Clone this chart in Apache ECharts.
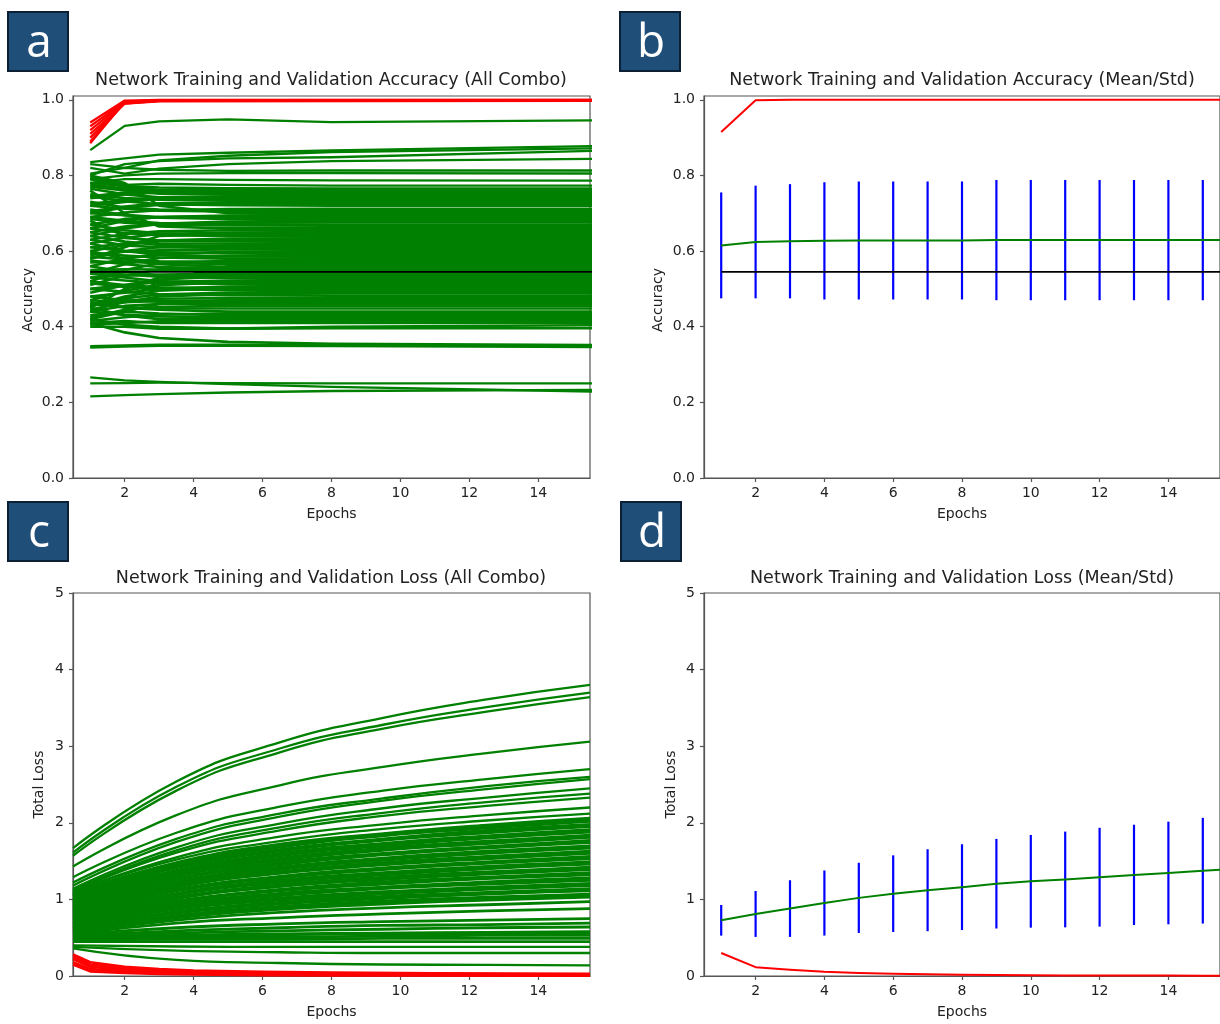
<!DOCTYPE html>
<html><head><meta charset="utf-8">
<script src="https://cdn.jsdelivr.net/npm/echarts@6/dist/echarts.min.js"></script>
<style>html,body{margin:0;padding:0;background:#fff}#c{width:1220px;height:1024px}</style>
</head><body><div id="c"></div>
<script>
// ---------- tick labels ----------
const xTicks = [2, 4, 6, 8, 10, 12, 14];
const accTicks = [0, 0.2, 0.4, 0.6, 0.8, 1.0];
const lossTicks = [0, 1, 2, 3, 4, 5];

// ---------- panel a: accuracy, all combos ----------
const accEpochs = [1, 2, 3, 5, 8, 16];
const accGreenTop = [
  [0.867, 0.931, 0.943, 0.948, 0.941, 0.946]
];
const accGreenUpper = [
  [0.835, 0.845, 0.855, 0.860, 0.866, 0.878],
  [0.830, 0.820, 0.840, 0.852, 0.862, 0.872],
  [0.800, 0.830, 0.838, 0.845, 0.848, 0.866],
  [0.820, 0.805, 0.818, 0.830, 0.838, 0.844],
  [0.805, 0.820, 0.815, 0.812, 0.813, 0.813],
  [0.790, 0.800, 0.805, 0.806, 0.806, 0.805],
  [0.780, 0.790, 0.790, 0.788, 0.787, 0.786],
  [0.795, 0.775, 0.778, 0.775, 0.773, 0.773]
];
const accGreenDense = [
  [0.780, 0.772, 0.768, 0.766, 0.765, 0.765],
  [0.740, 0.750, 0.755, 0.757, 0.757, 0.757],
  [0.770, 0.760, 0.752, 0.750, 0.749, 0.749],
  [0.720, 0.730, 0.738, 0.740, 0.741, 0.741],
  [0.750, 0.740, 0.736, 0.734, 0.733, 0.733],
  [0.700, 0.715, 0.722, 0.724, 0.725, 0.725],
  [0.730, 0.715, 0.710, 0.708, 0.708, 0.708],
  [0.670, 0.685, 0.690, 0.692, 0.692, 0.692],
  [0.710, 0.695, 0.688, 0.685, 0.684, 0.684],
  [0.650, 0.665, 0.672, 0.675, 0.676, 0.676],
  [0.690, 0.680, 0.674, 0.671, 0.670, 0.670],
  [0.630, 0.645, 0.652, 0.655, 0.655, 0.655],
  [0.660, 0.648, 0.642, 0.640, 0.638, 0.638],
  [0.610, 0.620, 0.627, 0.630, 0.630, 0.630],
  [0.640, 0.625, 0.616, 0.613, 0.612, 0.612],
  [0.590, 0.598, 0.602, 0.604, 0.604, 0.604],
  [0.620, 0.600, 0.590, 0.586, 0.585, 0.585],
  [0.570, 0.572, 0.568, 0.566, 0.565, 0.565],
  [0.600, 0.580, 0.565, 0.558, 0.557, 0.557],
  [0.550, 0.552, 0.551, 0.550, 0.550, 0.550],
  [0.530, 0.535, 0.538, 0.540, 0.540, 0.540],
  [0.560, 0.545, 0.536, 0.533, 0.532, 0.532],
  [0.500, 0.510, 0.518, 0.522, 0.524, 0.524],
  [0.540, 0.530, 0.520, 0.517, 0.516, 0.516],
  [0.480, 0.490, 0.500, 0.506, 0.508, 0.508],
  [0.520, 0.510, 0.504, 0.501, 0.500, 0.500],
  [0.460, 0.475, 0.485, 0.490, 0.492, 0.492],
  [0.800, 0.780, 0.720, 0.700, 0.700, 0.700],
  [0.440, 0.470, 0.520, 0.560, 0.570, 0.570],
  [0.760, 0.700, 0.665, 0.660, 0.660, 0.660],
  [0.420, 0.440, 0.460, 0.470, 0.472, 0.472],
  [0.680, 0.640, 0.620, 0.620, 0.621, 0.621],
  [0.580, 0.610, 0.640, 0.645, 0.646, 0.646],
  [0.450, 0.500, 0.530, 0.545, 0.545, 0.546]
];
const accGreenFill = [
  [0.745, 0.755, 0.760, 0.761, 0.761, 0.761],
  [0.775, 0.765, 0.757, 0.754, 0.753, 0.753],
  [0.725, 0.735, 0.742, 0.745, 0.745, 0.745],
  [0.765, 0.750, 0.742, 0.738, 0.737, 0.737],
  [0.705, 0.718, 0.726, 0.729, 0.729, 0.729],
  [0.745, 0.732, 0.724, 0.721, 0.720, 0.720],
  [0.690, 0.702, 0.708, 0.711, 0.712, 0.712],
  [0.720, 0.712, 0.707, 0.705, 0.704, 0.704],
  [0.660, 0.680, 0.690, 0.694, 0.696, 0.696],
  [0.700, 0.695, 0.690, 0.688, 0.688, 0.688],
  [0.640, 0.660, 0.672, 0.678, 0.680, 0.680],
  [0.685, 0.675, 0.670, 0.668, 0.667, 0.667],
  [0.620, 0.635, 0.645, 0.649, 0.650, 0.650],
  [0.670, 0.655, 0.647, 0.643, 0.642, 0.642],
  [0.600, 0.615, 0.628, 0.633, 0.634, 0.634],
  [0.650, 0.635, 0.628, 0.626, 0.626, 0.626],
  [0.580, 0.600, 0.610, 0.615, 0.616, 0.616],
  [0.630, 0.615, 0.610, 0.608, 0.608, 0.608],
  [0.560, 0.580, 0.592, 0.598, 0.600, 0.600],
  [0.610, 0.600, 0.597, 0.595, 0.595, 0.595],
  [0.540, 0.565, 0.582, 0.588, 0.590, 0.590],
  [0.595, 0.588, 0.583, 0.580, 0.580, 0.580],
  [0.520, 0.550, 0.568, 0.574, 0.575, 0.575],
  [0.585, 0.578, 0.573, 0.571, 0.570, 0.570],
  [0.510, 0.535, 0.552, 0.559, 0.561, 0.561],
  [0.575, 0.565, 0.558, 0.554, 0.553, 0.553],
  [0.490, 0.510, 0.525, 0.533, 0.536, 0.536],
  [0.545, 0.538, 0.532, 0.529, 0.528, 0.528],
  [0.470, 0.495, 0.510, 0.518, 0.520, 0.520],
  [0.530, 0.522, 0.516, 0.513, 0.512, 0.512],
  [0.455, 0.480, 0.495, 0.502, 0.504, 0.504],
  [0.515, 0.505, 0.499, 0.497, 0.496, 0.496],
  [0.445, 0.465, 0.480, 0.486, 0.488, 0.488],
  [0.500, 0.492, 0.486, 0.483, 0.482, 0.482],
  [0.790, 0.770, 0.762, 0.762, 0.762, 0.762]
];
const accGreenLower = [
  [0.470, 0.465, 0.468, 0.470, 0.470, 0.470],
  [0.440, 0.455, 0.460, 0.461, 0.460, 0.460],
  [0.465, 0.450, 0.445, 0.440, 0.440, 0.440],
  [0.430, 0.440, 0.435, 0.430, 0.430, 0.430],
  [0.450, 0.430, 0.420, 0.420, 0.420, 0.420],
  [0.410, 0.415, 0.410, 0.410, 0.410, 0.410],
  [0.420, 0.405, 0.400, 0.395, 0.400, 0.404],
  [0.400, 0.400, 0.395, 0.395, 0.396, 0.396],
  [0.410, 0.385, 0.370, 0.360, 0.355, 0.351],
  [0.348, 0.350, 0.352, 0.352, 0.350, 0.346],
  [0.345, 0.348, 0.350, 0.350, 0.349, 0.349],
  [0.455, 0.468, 0.474, 0.476, 0.476, 0.476],
  [0.480, 0.470, 0.466, 0.465, 0.465, 0.465],
  [0.425, 0.445, 0.452, 0.455, 0.455, 0.455],
  [0.460, 0.452, 0.449, 0.448, 0.448, 0.448],
  [0.415, 0.425, 0.432, 0.435, 0.435, 0.435],
  [0.440, 0.432, 0.427, 0.425, 0.425, 0.425],
  [0.405, 0.410, 0.414, 0.415, 0.415, 0.415]
];
const accGreenBottom = [
  [0.266, 0.258, 0.254, 0.248, 0.241, 0.228],
  [0.250, 0.251, 0.252, 0.251, 0.250, 0.250],
  [0.216, 0.219, 0.222, 0.226, 0.230, 0.233]
];
const accRedEpochs = [1, 2, 3, 16];
const accRed = [
  [0.940, 0.998, 1.000, 1.000],
  [0.930, 0.995, 0.999, 1.000],
  [0.920, 0.993, 0.998, 0.999],
  [0.910, 0.990, 0.997, 0.998],
  [0.900, 0.990, 0.996, 0.997],
  [0.890, 0.992, 0.997, 0.998],
  [0.885, 0.995, 0.998, 0.999]
];
const baselineEpochs = [1, 16];
const accBaseline = [0.545, 0.545];

// ---------- panel b: accuracy mean / std ----------
const meanEpochs = [1, 2, 3, 4, 5, 6, 7, 8, 9, 10, 11, 12, 13, 14, 15, 16];
const accValMean = [0.615, 0.624, 0.626, 0.627, 0.628, 0.628, 0.628, 0.628, 0.629, 0.629, 0.629, 0.629, 0.629, 0.629, 0.629, 0.629];
const accValStd  = [0.140, 0.149, 0.151, 0.155, 0.156, 0.156, 0.156, 0.156, 0.159, 0.159, 0.159, 0.159, 0.159, 0.159, 0.159];
const accTrainMean = [0.915, 0.999, 1.0, 1.0, 1.0, 1.0, 1.0, 1.0, 1.0, 1.0, 1.0, 1.0, 1.0, 1.0, 1.0, 1.0];

// ---------- panel c: loss, all combos ----------
const lossEpochs = [0.5, 3.5, 6.5, 9.5, 12.5, 15.5];
const lossGreenTop = [
  [1.67, 2.54, 3.05, 3.37, 3.61, 3.80],
  [1.61, 2.47, 2.97, 3.28, 3.51, 3.70],
  [1.57, 2.42, 2.92, 3.23, 3.45, 3.64],
  [1.43, 2.10, 2.49, 2.73, 2.91, 3.06],
  [1.29, 1.87, 2.21, 2.42, 2.57, 2.70],
  [1.22, 1.79, 2.12, 2.32, 2.48, 2.60],
  [1.18, 1.75, 2.08, 2.29, 2.44, 2.57],
  [1.14, 1.68, 1.99, 2.19, 2.33, 2.45],
  [1.12, 1.64, 1.94, 2.13, 2.27, 2.38],
  [1.11, 1.61, 1.90, 2.09, 2.22, 2.33],
  [1.10, 1.55, 1.82, 1.98, 2.10, 2.20],
  [1.10, 1.52, 1.76, 1.92, 2.03, 2.12]
];
const lossGreenDense = [
  [1.08, 1.48, 1.72, 1.86, 1.97, 2.06],
  [1.06, 1.45, 1.68, 1.83, 1.93, 2.02],
  [1.05, 1.43, 1.65, 1.79, 1.90, 1.98],
  [1.03, 1.41, 1.63, 1.77, 1.87, 1.95],
  [1.01, 1.38, 1.60, 1.73, 1.83, 1.91],
  [0.99, 1.35, 1.57, 1.70, 1.80, 1.88],
  [0.97, 1.33, 1.54, 1.67, 1.76, 1.84],
  [0.95, 1.30, 1.51, 1.64, 1.73, 1.81],
  [0.93, 1.27, 1.48, 1.60, 1.69, 1.77],
  [0.92, 1.26, 1.45, 1.58, 1.67, 1.74],
  [0.90, 1.23, 1.42, 1.54, 1.63, 1.70],
  [0.88, 1.20, 1.39, 1.51, 1.60, 1.67],
  [0.86, 1.18, 1.36, 1.48, 1.56, 1.63],
  [0.85, 1.16, 1.34, 1.45, 1.53, 1.60],
  [0.83, 1.13, 1.30, 1.41, 1.49, 1.56],
  [0.81, 1.11, 1.28, 1.39, 1.47, 1.53],
  [0.80, 1.08, 1.25, 1.35, 1.43, 1.49],
  [0.78, 1.06, 1.22, 1.32, 1.40, 1.46],
  [0.76, 1.03, 1.19, 1.29, 1.36, 1.42],
  [0.75, 1.01, 1.17, 1.26, 1.33, 1.39],
  [0.73, 0.98, 1.13, 1.23, 1.29, 1.35],
  [0.72, 0.97, 1.11, 1.20, 1.27, 1.32],
  [0.70, 0.94, 1.08, 1.16, 1.23, 1.28],
  [0.68, 0.91, 1.05, 1.14, 1.20, 1.25],
  [0.67, 0.89, 1.02, 1.10, 1.16, 1.21],
  [0.65, 0.87, 0.99, 1.07, 1.13, 1.18],
  [0.63, 0.84, 0.96, 1.04, 1.09, 1.14],
  [0.62, 0.82, 0.94, 1.01, 1.07, 1.11],
  [0.60, 0.79, 0.91, 0.98, 1.03, 1.07],
  [0.58, 0.76, 0.87, 0.94, 0.99, 1.03],
  [0.57, 0.73, 0.83, 0.89, 0.93, 0.97],
  [0.55, 0.69, 0.76, 0.81, 0.85, 0.88],
  [0.54, 0.63, 0.68, 0.71, 0.73, 0.75],
  [0.52, 0.59, 0.63, 0.66, 0.67, 0.69],
  [0.51, 0.56, 0.59, 0.61, 0.63, 0.64],
  [0.50, 0.53, 0.55, 0.56, 0.57, 0.58],
  [0.49, 0.52, 0.54, 0.55, 0.55, 0.56],
  [0.48, 0.50, 0.51, 0.52, 0.53, 0.53],
  [0.47, 0.48, 0.48, 0.49, 0.49, 0.49],
  [0.45, 0.45, 0.45, 0.45, 0.45, 0.45]
];
const lossGreenFill = [
  [1.07, 1.47, 1.70, 1.85, 1.95, 2.04],
  [1.04, 1.42, 1.64, 1.78, 1.88, 1.96],
  [1.00, 1.36, 1.58, 1.71, 1.81, 1.89],
  [0.96, 1.31, 1.52, 1.65, 1.74, 1.82],
  [0.925, 1.26, 1.46, 1.59, 1.68, 1.75],
  [0.89, 1.21, 1.40, 1.52, 1.61, 1.68],
  [0.855, 1.165, 1.35, 1.46, 1.54, 1.61],
  [0.82, 1.12, 1.29, 1.40, 1.48, 1.54],
  [0.79, 1.07, 1.23, 1.33, 1.41, 1.47],
  [0.755, 1.02, 1.17, 1.27, 1.34, 1.40],
  [0.725, 0.97, 1.12, 1.21, 1.28, 1.33],
  [0.69, 0.92, 1.06, 1.15, 1.21, 1.26],
  [0.66, 0.88, 1.00, 1.08, 1.14, 1.19],
  [0.625, 0.83, 0.95, 1.02, 1.075, 1.12],
  [0.59, 0.78, 0.89, 0.96, 1.01, 1.05]
];
const lossGreenLow = [
  [0.40, 0.385, 0.38, 0.38, 0.38, 0.38],
  [0.38, 0.33, 0.31, 0.30, 0.30, 0.30],
  [0.36, 0.21, 0.17, 0.15, 0.145, 0.14]
];
const lossRedEpochs = [0.5, 1, 2, 3, 4, 6, 8, 11, 15.5];
const lossRed = [
  [0.28, 0.18, 0.12, 0.090, 0.070, 0.055, 0.045, 0.035, 0.030],
  [0.25, 0.15, 0.10, 0.070, 0.055, 0.040, 0.032, 0.025, 0.020],
  [0.22, 0.12, 0.08, 0.060, 0.045, 0.030, 0.022, 0.017, 0.012],
  [0.18, 0.09, 0.06, 0.040, 0.030, 0.018, 0.013, 0.010, 0.008],
  [0.15, 0.06, 0.04, 0.028, 0.020, 0.012, 0.008, 0.006, 0.004]
];

// ---------- panel d: loss mean / std ----------
const lossValMean = [0.727, 0.81, 0.88, 0.953, 1.02, 1.075, 1.12, 1.16, 1.205, 1.236, 1.26, 1.29, 1.32, 1.345, 1.375, 1.40];
const lossValStd  = [0.20, 0.30, 0.37, 0.425, 0.458, 0.50, 0.535, 0.56, 0.585, 0.605, 0.625, 0.645, 0.655, 0.67, 0.69];
const lossTrainMean = [0.30, 0.115, 0.083, 0.055, 0.04, 0.03, 0.022, 0.017, 0.013, 0.010, 0.008, 0.007, 0.006, 0.005, 0.004, 0.004];

// ---------- texts ----------
const titles = [
  'Network Training and Validation Accuracy (All Combo)',
  'Network Training and Validation Accuracy (Mean/Std)',
  'Network Training and Validation Loss (All Combo)',
  'Network Training and Validation Loss (Mean/Std)'
];
const panelLetters = ['a', 'b', 'c', 'd'];

// ---------- build ----------
const FONT = '"DejaVu Sans", sans-serif';
const GREEN = '#008000', RED = '#ff0000', BLUE = '#0000ff', BLACK = '#000000';
const AX = '#555555', TXT = '#222222';

const grids = [
  {left: 73, top: 96, width: 517, height: 382},
  {left: 704, top: 96, width: 517, height: 382},
  {left: 73, top: 593, width: 517, height: 383},
  {left: 704, top: 593, width: 517, height: 383}
].map(g => Object.assign({show: true, borderColor: AX, borderWidth: 1.2, backgroundColor: 'transparent'}, g));

function xAx(gi) {
  return {
    type: 'value', gridIndex: gi, min: 0.5, max: 15.5,
    name: 'Epochs', nameLocation: 'middle', nameGap: 29,
    nameTextStyle: {fontFamily: FONT, fontSize: 14, color: TXT},
    axisLine: {show: true, onZero: false, lineStyle: {color: AX, width: 1.2}},
    axisTick: {show: true, inside: false, length: 4, lineStyle: {color: AX, width: 1.2}, customValues: xTicks},
    axisLabel: {show: true, fontFamily: FONT, fontSize: 14, color: TXT, margin: 8, customValues: xTicks},
    splitLine: {show: false}
  };
}
function yAx(gi, max, ticks, name, gap, dec, pad) {
  return {
    type: 'value', gridIndex: gi, min: 0, max: max,
    name: name, nameLocation: 'middle', nameGap: gap,
    nameTextStyle: {fontFamily: FONT, fontSize: 14, color: TXT, padding: pad},
    axisLine: {show: true, onZero: false, lineStyle: {color: AX, width: 1.2}},
    axisTick: {show: true, inside: false, length: 4, lineStyle: {color: AX, width: 1.2}, customValues: ticks},
    axisLabel: {show: true, fontFamily: FONT, fontSize: 14, color: TXT, margin: 9, customValues: ticks,
      formatter: v => Number(v).toFixed(dec)},
    splitLine: {show: false}
  };
}

const series = [];
function addLine(gi, xs, ys, color, width, z, smooth) {
  series.push({
    type: 'line', xAxisIndex: gi, yAxisIndex: gi,
    data: xs.map((x, i) => [x, ys[i]]).filter(p => p[1] !== undefined),
    symbol: 'none', showSymbol: false, silent: true, animation: false, clip: true,
    smooth: smooth || false,
    lineStyle: {color: color, width: width, join: 'round'}, itemStyle: {color: color}, z: z
  });
}
function addErr(gi, mean, std, color) {
  series.push({
    type: 'custom', xAxisIndex: gi, yAxisIndex: gi, silent: true, animation: false, z: 1,
    data: std.map((s, i) => [meanEpochs[i], mean[i] - s, mean[i] + s]),
    renderItem: (params, api) => {
      const p1 = api.coord([api.value(0), api.value(1)]);
      const p2 = api.coord([api.value(0), api.value(2)]);
      return {type: 'line', shape: {x1: p1[0], y1: p1[1], x2: p2[0], y2: p2[1]},
        style: {stroke: color, lineWidth: 2.2}};
    }
  });
}

// panel a
[accGreenTop, accGreenUpper].forEach(group =>
  group.forEach(ln => addLine(0, accEpochs, ln, GREEN, 2.3, 2)));
[accGreenDense, accGreenFill, accGreenLower].forEach(group =>
  group.forEach(ln => addLine(0, accEpochs, ln, GREEN, 2.6, 2)));
accGreenBottom.forEach(ln => addLine(0, accEpochs, ln, GREEN, 2.3, 2));
accRed.forEach(ln => addLine(0, accRedEpochs, ln, RED, 2.2, 3));
addLine(0, baselineEpochs, accBaseline, BLACK, 1.8, 4);

// panel b
addErr(1, accValMean, accValStd, BLUE);
addLine(1, meanEpochs, accValMean, GREEN, 2, 3);
addLine(1, meanEpochs, accTrainMean, RED, 2, 3);
addLine(1, baselineEpochs, accBaseline, BLACK, 1.8, 4);

// panel c
lossGreenTop.forEach(ln => addLine(2, lossEpochs, ln, GREEN, 2.3, 2, 0.5));
[lossGreenDense, lossGreenFill].forEach(group =>
  group.forEach(ln => addLine(2, lossEpochs, ln, GREEN, 2.8, 2, 0.5)));
lossGreenLow.forEach(ln => addLine(2, lossEpochs, ln, GREEN, 2.3, 2, 0.5));
lossRed.forEach(ln => addLine(2, lossRedEpochs, ln, RED, 2.6, 3));

// panel d
addErr(3, lossValMean, lossValStd, BLUE);
addLine(3, meanEpochs, lossValMean, GREEN, 2, 3);
addLine(3, meanEpochs, lossTrainMean, RED, 2, 3);

// graphics: titles and panel letters
const titlePos = [[331, 80], [962, 80], [331, 578], [962, 578]];
const boxPos = [[8, 12], [620, 12], [8, 502], [621, 502]];
const graphic = [];
titles.forEach((t, i) => graphic.push({
  type: 'text', x: titlePos[i][0], y: titlePos[i][1], silent: true,
  style: {text: t, fill: TXT, font: '17.5px "DejaVu Sans"', align: 'center', verticalAlign: 'middle',
    textAlign: 'center', textVerticalAlign: 'middle'}
}));
panelLetters.forEach((l, i) => {
  graphic.push({type: 'rect', silent: true, shape: {x: boxPos[i][0], y: boxPos[i][1], width: 60, height: 59},
    style: {fill: '#1f4e79', stroke: '#0c2035', lineWidth: 2}});
  graphic.push({type: 'text', silent: true, x: boxPos[i][0] + 31, y: boxPos[i][1] + 32,
    style: {text: l, fill: '#ffffff', font: '46px "Open Sans"', align: 'center', verticalAlign: 'middle',
      textAlign: 'center', textVerticalAlign: 'middle'}});
});

const chart = echarts.init(document.getElementById('c'), null, {renderer: 'canvas'});
chart.setOption({
  animation: false,
  backgroundColor: '#ffffff',
  grid: grids,
  xAxis: [xAx(0), xAx(1), xAx(2), xAx(3)],
  yAxis: [
    yAx(0, 1.01, accTicks, 'Accuracy', 38, 1, [0, 26, 0, 0]),
    yAx(1, 1.01, accTicks, 'Accuracy', 39, 1, [0, 26, 0, 0]),
    yAx(2, 5, lossTicks, 'Total Loss', 27, 0, [0, 0, 0, 0]),
    yAx(3, 5, lossTicks, 'Total Loss', 26, 0, [0, 0, 0, 0])
  ],
  series: series,
  graphic: graphic
});
</script></body></html>
